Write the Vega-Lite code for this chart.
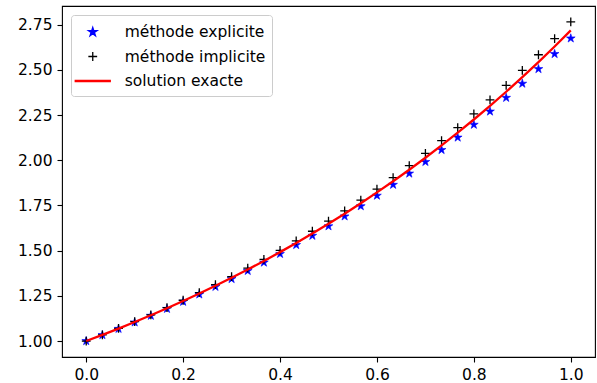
{
  "$schema": "https://vega.github.io/schema/vega-lite/v6.json",
  "width": 533,
  "height": 351,
  "autosize": {"type": "none"},
  "padding": {"left": 62, "top": 6, "right": 2, "bottom": 26},
  "config": {
    "font": "DejaVu Sans",
    "view": {"stroke": "#000000", "strokeWidth": 1.1},
    "axis": {
      "domain": false,
      "grid": false,
      "tickColor": "#000000",
      "tickSize": 5,
      "tickWidth": 1.1,
      "labelFont": "DejaVu Sans",
      "labelFontSize": 15.5,
      "labelColor": "#000000",
      "labelPadding": 5,
      "title": null
    },
    "legend": {
      "orient": "top-left",
      "offset": 9,
      "padding": 6,
      "strokeColor": "#cccccc",
      "fillColor": "#ffffff",
      "cornerRadius": 3,
      "labelFont": "DejaVu Sans",
      "labelFontSize": 15.5,
      "labelColor": "#000000",
      "labelOffset": 21,
      "symbolOffset": 4.75,
      "symbolSize": 400,
      "symbolStrokeWidth": 1.3,
      "rowPadding": 4.5,
      "title": null
    }
  },
  "data": {
    "values": [
      {"x": 0, "explicite": 1, "implicite": 1, "exacte": 1},
      {"x": 0.03333, "explicite": 1.033333, "implicite": 1.034483, "exacte": 1.033895},
      {"x": 0.06667, "explicite": 1.067778, "implicite": 1.070155, "exacte": 1.068939},
      {"x": 0.1, "explicite": 1.10337, "implicite": 1.107057, "exacte": 1.105171},
      {"x": 0.13333, "explicite": 1.140149, "implicite": 1.145231, "exacte": 1.142631},
      {"x": 0.16667, "explicite": 1.178154, "implicite": 1.184722, "exacte": 1.181361},
      {"x": 0.2, "explicite": 1.217426, "implicite": 1.225575, "exacte": 1.221403},
      {"x": 0.23333, "explicite": 1.258007, "implicite": 1.267836, "exacte": 1.262804},
      {"x": 0.26667, "explicite": 1.299941, "implicite": 1.311554, "exacte": 1.305607},
      {"x": 0.3, "explicite": 1.343272, "implicite": 1.35678, "exacte": 1.349859},
      {"x": 0.33333, "explicite": 1.388048, "implicite": 1.403566, "exacte": 1.395612},
      {"x": 0.36667, "explicite": 1.434316, "implicite": 1.451965, "exacte": 1.442917},
      {"x": 0.4, "explicite": 1.482127, "implicite": 1.502033, "exacte": 1.491825},
      {"x": 0.43333, "explicite": 1.531531, "implicite": 1.553827, "exacte": 1.54239},
      {"x": 0.46667, "explicite": 1.582582, "implicite": 1.607407, "exacte": 1.594669},
      {"x": 0.5, "explicite": 1.635335, "implicite": 1.662835, "exacte": 1.648721},
      {"x": 0.53333, "explicite": 1.689846, "implicite": 1.720174, "exacte": 1.704604},
      {"x": 0.56667, "explicite": 1.746174, "implicite": 1.77949, "exacte": 1.762382},
      {"x": 0.6, "explicite": 1.80438, "implicite": 1.840852, "exacte": 1.822119},
      {"x": 0.63333, "explicite": 1.864526, "implicite": 1.90433, "exacte": 1.88388},
      {"x": 0.66667, "explicite": 1.926677, "implicite": 1.969997, "exacte": 1.947734},
      {"x": 0.7, "explicite": 1.9909, "implicite": 2.037928, "exacte": 2.013753},
      {"x": 0.73333, "explicite": 2.057263, "implicite": 2.108201, "exacte": 2.082012},
      {"x": 0.76667, "explicite": 2.125838, "implicite": 2.180898, "exacte": 2.152582},
      {"x": 0.8, "explicite": 2.196699, "implicite": 2.256101, "exacte": 2.225541},
      {"x": 0.83333, "explicite": 2.269922, "implicite": 2.333898, "exacte": 2.300976},
      {"x": 0.86667, "explicite": 2.345586, "implicite": 2.414377, "exacte": 2.378969},
      {"x": 0.9, "explicite": 2.423772, "implicite": 2.497631, "exacte": 2.459603},
      {"x": 0.93333, "explicite": 2.504564, "implicite": 2.583756, "exacte": 2.542971},
      {"x": 0.96667, "explicite": 2.588049, "implicite": 2.672851, "exacte": 2.629167},
      {"x": 1, "explicite": 2.674317, "implicite": 2.765018, "exacte": 2.718282}
    ]
  },
  "encoding": {
    "x": {
      "field": "x",
      "type": "quantitative",
      "scale": {"domain": [-0.05, 1.05], "nice": false, "zero": false},
      "axis": {"values": [0, 0.2, 0.4, 0.6, 0.8, 1.0], "format": ".1f"}
    }
  },
  "layer": [
    {
      "mark": {"type": "point", "size": 400, "strokeWidth": 0.6, "opacity": 1},
      "encoding": {
        "y": {
          "field": "explicite",
          "type": "quantitative",
          "scale": {"domain": [0.9117, 2.8533], "nice": false, "zero": false},
          "axis": {"values": [1, 1.25, 1.5, 1.75, 2, 2.25, 2.5, 2.75], "format": ".2f"}
        },
        "shape": {
          "datum": "méthode explicite",
          "scale": {
            "domain": ["méthode explicite", "méthode implicite", "solution exacte"],
            "range": [
              "M0,-0.46L0.1033,-0.1421L0.4375,-0.1421L0.1671,0.0543L0.2704,0.3721L0,0.1757L-0.2704,0.3721L-0.1671,0.0543L-0.4375,-0.1421L-0.1033,-0.1421Z",
              "M-0.44,0H0.44M0,-0.44V0.44",
              "M-1.75,-0.05H1.75V0.05H-1.75Z"
            ]
          }
        },
        "fill": {
          "datum": "méthode explicite",
          "scale": {
            "domain": ["méthode explicite", "méthode implicite", "solution exacte"],
            "range": ["#0000ff", "#000000", "#ff0000"]
          }
        },
        "stroke": {
          "datum": "méthode explicite",
          "scale": {
            "domain": ["méthode explicite", "méthode implicite", "solution exacte"],
            "range": ["#0000ff", "#000000", "#ff0000"]
          }
        }
      }
    },
    {
      "mark": {"type": "point", "size": 400, "strokeWidth": 1.3, "opacity": 1},
      "encoding": {
        "y": {"field": "implicite", "type": "quantitative"},
        "shape": {"datum": "méthode implicite"},
        "fill": {"datum": "méthode implicite"},
        "stroke": {"datum": "méthode implicite"}
      }
    },
    {
      "mark": {"type": "line", "strokeWidth": 2.3},
      "encoding": {
        "y": {"field": "exacte", "type": "quantitative"},
        "stroke": {"datum": "solution exacte"}
      }
    }
  ]
}
